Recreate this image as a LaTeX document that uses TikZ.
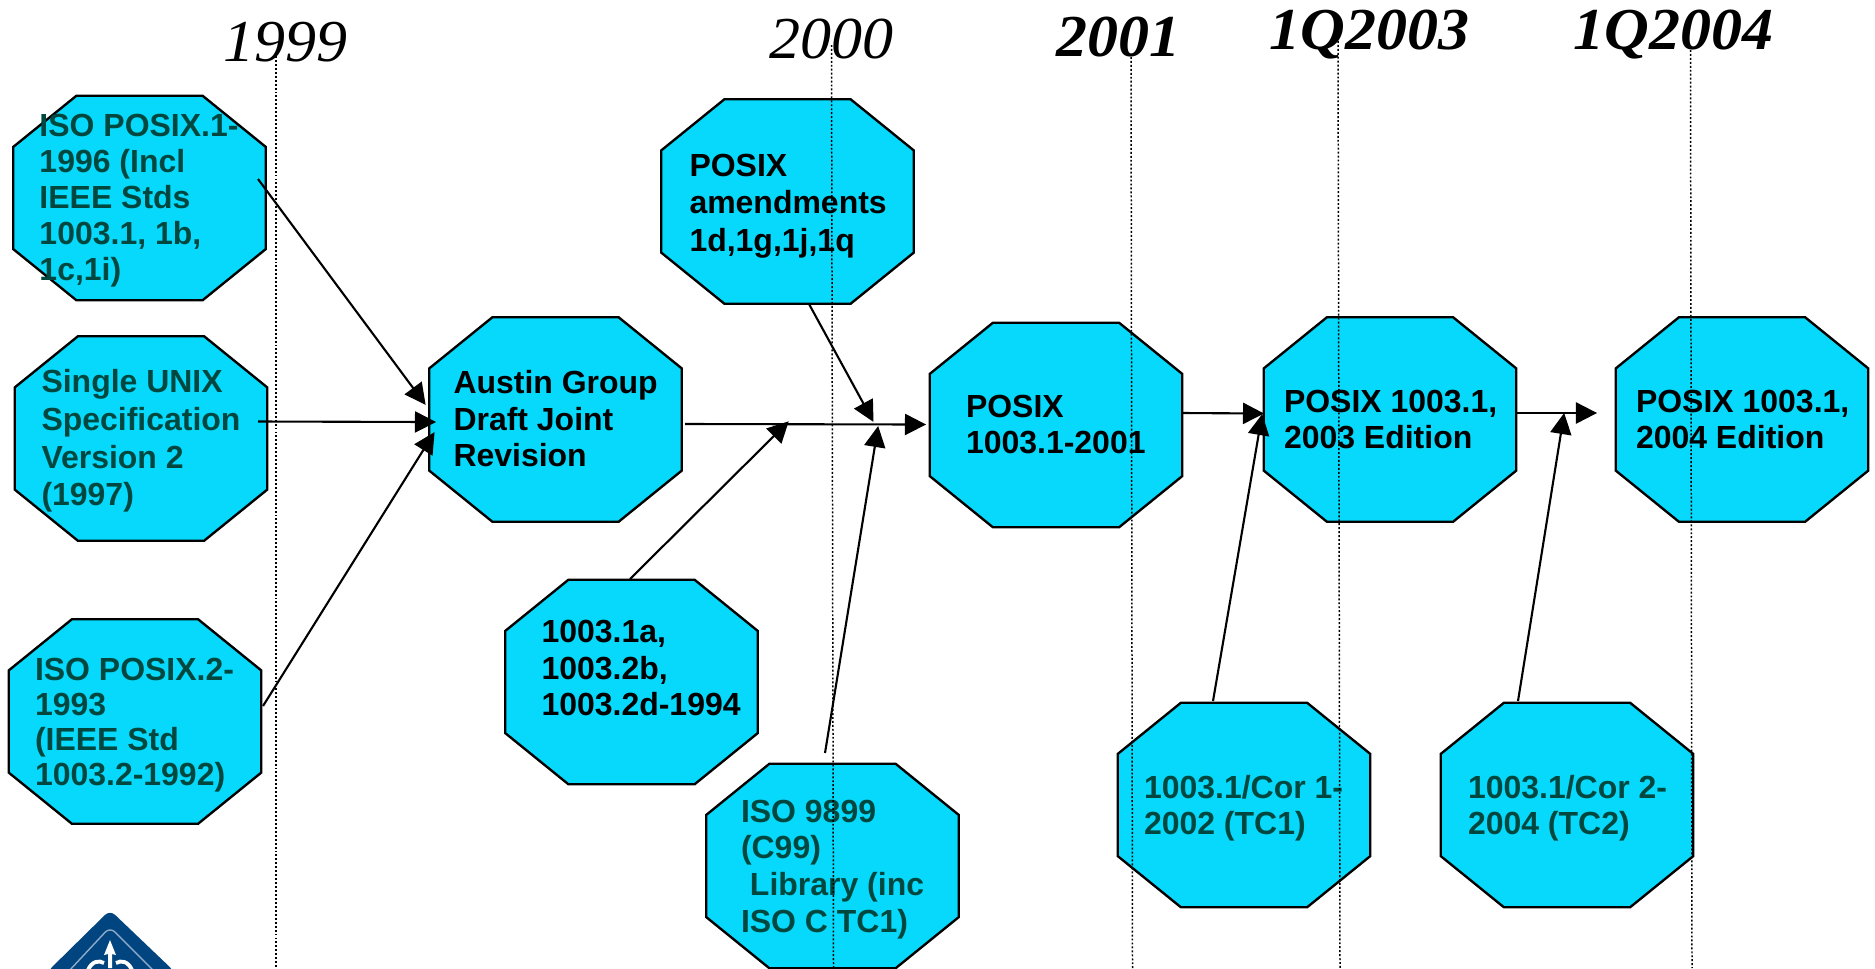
\documentclass[tikz,border=0pt]{standalone}
\usepackage{fontspec}
\setmainfont{Liberation Sans}
\newfontfamily\yearfont{Liberation Serif}
\usetikzlibrary{arrows.meta}
\definecolor{octfill}{HTML}{06D9FB}
\definecolor{tealtext}{HTML}{00483F}
\definecolor{logoblue}{HTML}{004580}
\definecolor{logoline}{HTML}{8FA9C8}
\makeatletter
\pgfdeclareshape{octa}{
  \inheritsavedanchors[from=rectangle]
  \inheritanchorborder[from=rectangle]
  \inheritanchor[from=rectangle]{center}
  \inheritanchor[from=rectangle]{north}
  \inheritanchor[from=rectangle]{south}
  \inheritanchor[from=rectangle]{east}
  \inheritanchor[from=rectangle]{west}
  \backgroundpath{
    \southwest \pgf@xa=\pgf@x \pgf@ya=\pgf@y
    \northeast \pgf@xb=\pgf@x \pgf@yb=\pgf@y
    \pgf@xc=\pgf@xb \advance\pgf@xc by -\pgf@xa \pgf@xc=0.25\pgf@xc
    \pgf@yc=\pgf@yb \advance\pgf@yc by -\pgf@ya \pgf@yc=0.25\pgf@yc
    \pgfpathmoveto{\pgfpoint{\pgf@xa+\pgf@xc}{\pgf@yb}}
    \pgfpathlineto{\pgfpoint{\pgf@xb-\pgf@xc}{\pgf@yb}}
    \pgfpathlineto{\pgfpoint{\pgf@xb}{\pgf@yb-\pgf@yc}}
    \pgfpathlineto{\pgfpoint{\pgf@xb}{\pgf@ya+\pgf@yc}}
    \pgfpathlineto{\pgfpoint{\pgf@xb-\pgf@xc}{\pgf@ya}}
    \pgfpathlineto{\pgfpoint{\pgf@xa+\pgf@xc}{\pgf@ya}}
    \pgfpathlineto{\pgfpoint{\pgf@xa}{\pgf@ya+\pgf@yc}}
    \pgfpathlineto{\pgfpoint{\pgf@xa}{\pgf@yb-\pgf@yc}}
    \pgfpathclose
  }
}
\makeatother
\tikzset{
  oct/.style={shape=octa, draw=black, fill=octfill, line width=1.35pt, outer sep=0pt, inner sep=0pt,
    minimum width=5.05cm, minimum height=4.09cm},
  lbl/.style={anchor=north west, inner sep=0pt, outer sep=0pt, align=left, yshift=20pt,
    font=\bfseries\fontsize{18.2}{#1}\selectfont},
  lbl/.default=20.6pt,
  teal/.style={text=tealtext},
  year/.style={anchor=base west, inner sep=0pt, font=\yearfont\itshape\fontsize{36}{40}\selectfont},
  yearb/.style={anchor=base west, inner sep=0pt, font=\yearfont\bfseries\itshape\fontsize{36}{40}\selectfont},
  guide/.style={line width=0.85pt, dash pattern=on 1.1pt off 1.15pt},
  conn/.style={line width=1.2pt, -{Triangle[length=12pt,width=12pt]}, shorten >=-0.6pt},
}
\newcommand{\st}{\rule{0pt}{20pt}}
\newcommand{\yr}[1]{\scalebox{0.98}[0.94]{#1}}
\begin{document}
\begin{tikzpicture}[x=0.02cm,y=-0.02cm]
\useasboundingbox (0,0) rectangle (1875,968);
% logo
\begin{scope}
  \clip (0,0) rectangle (1875,968);
  \fill[logoblue, rounded corners=4pt] (110,910) -- (175,972) -- (47,972) -- cycle;
  \draw[logoline, line width=0.8pt, rounded corners=4pt] (68,972) -- (110,927) -- (155,972);
  \fill[white] (110,940) -- (116,955) -- (112,954) -- (112,968) -- (108,968) -- (108,954) -- (104,955) -- cycle;
  \draw[white, line width=2.2pt] (88,970) .. controls (92,961) and (99,960) .. (104,963);
  \draw[white, line width=2.2pt] (132,970) .. controls (128,961) and (121,960) .. (116,963);
\end{scope}
% octagons
\node[oct] (iso1)  at (139.5,198) {};
\node[oct] (sus)   at (141,438.5) {};
\node[oct] (iso2)  at (135,721.5) {};
\node[oct] (austin) at (555.5,419.5) {};
\node[oct] (amend) at (787.5,201.5) {};
\node[oct] (a1003) at (631.5,682) {};
\node[oct] (c99)   at (832.5,866) {};
\node[oct] (p2001) at (1056,425) {};
\node[oct] (p2003) at (1390,419.5) {};
\node[oct] (p2004) at (1742,419.5) {};
\node[oct] (cor1)  at (1244,805) {};
\node[oct] (cor2)  at (1567,805) {};
% texts
\node[lbl,teal] (iso1t) at (39.5,136) {\st ISO POSIX.1-\\1996 (Incl\\IEEE Stds\\1003.1, 1b,\\1c,1i)};
\node[lbl=21.5pt,teal] (sust) at (41.5,392.5) {\st Single UNIX\\Specification\\Version 2\\(1997)};
\node[lbl=20pt,teal] (iso2t) at (35,680) {\st ISO POSIX.2-\\1993\\(IEEE Std\\1003.2-1992)};
\node[lbl=20.9pt] (austint) at (453.5,393.5) {\st Austin Group\\Draft Joint\\Revision};
\node[lbl=21.6pt] (amendt) at (689.5,176) {\st POSIX\\amendments\\1d,1g,1j,1q};
\node[lbl=20.9pt] (a1003t) at (541.5,642.5) {\st 1003.1a,\\1003.2b,\\1003.2d-1994};
\node[lbl=21pt,teal] (c99t) at (741,822) {\st ISO 9899\\(C99)\\\hspace*{.28em}Library (inc\\ISO C TC1)};
\node[lbl=20.9pt] (p2001t) at (966,417) {\st POSIX\\1003.1-2001};
\node[lbl=20.5pt] (p2003t) at (1284,412) {\st POSIX 1003.1,\\2003 Edition};
\node[lbl=20.5pt] (p2004t) at (1636,412) {\st POSIX 1003.1,\\2004 Edition};
\node[lbl=20.5pt,teal] (cor1t) at (1144,798.5) {\st 1003.1/Cor 1-\\2002 (TC1)};
\node[lbl=20.5pt,teal] (cor2t) at (1468,798.5) {\st 1003.1/Cor 2-\\2004 (TC2)};
% year labels
\node[year] (y1999) at (223,61) {\yr{1999}};
\node[year] (y2000) at (769,58) {\yr{2000}};
\node[yearb] (y2001) at (1056,56) {\yr{2001}};
\node[yearb] (y2003) at (1269,49.5) {\yr{1Q2003}};
\node[yearb] (y2004) at (1573,49.5) {\yr{1Q2004}};
% guide lines
\coordinate (g1a) at (276,52);    \coordinate (g1b) at (276,968);
\coordinate (g2a) at (831.5,45);  \coordinate (g2b) at (833.5,968);
\coordinate (g3a) at (1131,57);   \coordinate (g3b) at (1132.5,968);
\coordinate (g4a) at (1338,37);   \coordinate (g4b) at (1340,968);
\coordinate (g5a) at (1690.5,50); \coordinate (g5b) at (1692,968);
\draw[guide] (g1a) -- (g1b);
\draw[guide] (g2a) -- (g2b);
\draw[guide] (g3a) -- (g3b);
\draw[guide] (g4a) -- (g4b);
\draw[guide] (g5a) -- (g5b);
% connector ends
\coordinate (s1) at (258,179);   \coordinate (e1) at (425,404);
\coordinate (s2) at (258,421.5); \coordinate (e2) at (435,422);
\coordinate (s3) at (263,706);   \coordinate (e3) at (434,433);
\coordinate (s4) at (685,424);   \coordinate (e4) at (925,424.5);
\coordinate (s5) at (630,579);   \coordinate (e5) at (788,422);
\coordinate (s6) at (809,304);   \coordinate (e6) at (873,421);
\coordinate (s7) at (825,753);   \coordinate (e7) at (878,427);
\coordinate (s8) at (1183,413);  \coordinate (e8) at (1263,413.5);
\coordinate (s9) at (1213,701);  \coordinate (e9) at (1262,415);
\coordinate (s10) at (1517,413); \coordinate (e10) at (1596,413);
\coordinate (s11) at (1518,701); \coordinate (e11) at (1564,414);
\foreach \i in {1,...,11} \draw[conn] (s\i) -- (e\i);
\end{tikzpicture}
\end{document}
